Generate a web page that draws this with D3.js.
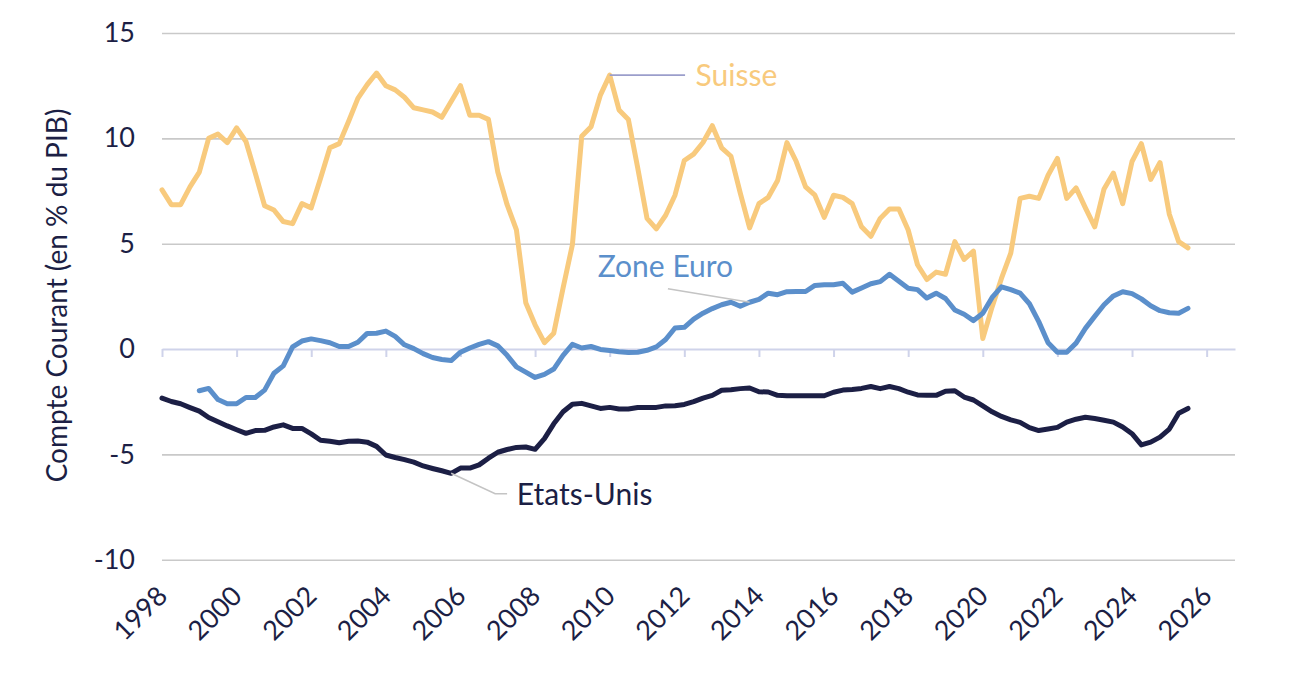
<!DOCTYPE html>
<html>
<head>
<meta charset="utf-8">
<script src="https://cdn.jsdelivr.net/npm/d3@7"></script>
<style>
  html, body { margin: 0; padding: 0; background: #ffffff; }
  svg { display: block; font-family: Lato, "Open Sans", sans-serif; }
</style>
</head>
<body>
<svg id="chart" width="1292" height="673"></svg>
<script>
// ---------------- DATA (quarterly, % of GDP) ----------------
const suisseStart = 1998;   // first quarter 1998Q1
const euroStart = 1999;     // first quarter 1999Q1
const usStart = 1998;       // first quarter 1998Q1

const suisse = [
  7.55, 6.85, 6.85, 7.7,
  8.4, 10.0, 10.2, 9.8,
  10.5, 9.85, 8.35, 6.8,
  6.6, 6.05, 5.95, 6.9,
  6.7, 8.1, 9.55, 9.75,
  10.8, 11.9, 12.55, 13.1,
  12.5, 12.3, 11.95, 11.45,
  11.35, 11.25, 11.0, 11.75,
  12.5, 11.1, 11.1, 10.9,
  8.4, 6.85, 5.65, 2.2,
  1.15, 0.3, 0.75, 2.9,
  4.95, 10.1, 10.55, 12.05,
  13.0, 11.35, 10.9, 8.6,
  6.2, 5.7, 6.35, 7.3,
  8.95, 9.25, 9.8, 10.6,
  9.55, 9.15, 7.4, 5.75,
  6.9, 7.2, 8.0, 9.8,
  8.9, 7.7, 7.3, 6.25,
  7.3, 7.2, 6.9, 5.8,
  5.35, 6.2, 6.65, 6.65,
  5.65, 4.0, 3.3, 3.65,
  3.55, 5.1, 4.25, 4.65,
  0.5, 2.0, 3.35, 4.55,
  7.15, 7.25, 7.15, 8.25,
  9.05, 7.15, 7.65, 6.7,
  5.8, 7.6, 8.35, 6.9,
  8.9, 9.75, 8.05, 8.85,
  6.4, 5.1, 4.8
];

const zoneEuro = [
  -1.98, -1.87, -2.4, -2.6,
  -2.6, -2.3, -2.3, -1.95,
  -1.15, -0.8, 0.1, 0.38,
  0.48, 0.4, 0.3, 0.12,
  0.12, 0.32, 0.74, 0.75,
  0.85, 0.6, 0.2, 0.02,
  -0.22, -0.4, -0.5, -0.55,
  -0.15, 0.05, 0.22, 0.35,
  0.15, -0.3, -0.85, -1.1,
  -1.35, -1.2, -0.95, -0.3,
  0.22, 0.05, 0.12, -0.02,
  -0.07, -0.13, -0.16, -0.15,
  -0.06, 0.1, 0.45, 1.0,
  1.03, 1.42, 1.7, 1.92,
  2.1, 2.22, 2.03, 2.22,
  2.36, 2.65, 2.58, 2.72,
  2.73, 2.73, 3.02, 3.05,
  3.05, 3.12, 2.7, 2.9,
  3.1, 3.2, 3.55, 3.22,
  2.88, 2.82, 2.42, 2.65,
  2.4, 1.85, 1.65, 1.35,
  1.7, 2.45, 2.95, 2.82,
  2.65, 2.15, 1.3, 0.3,
  -0.15, -0.15, 0.28, 0.98,
  1.55, 2.1, 2.52, 2.72,
  2.63, 2.38, 2.05, 1.82,
  1.72, 1.7, 1.93
];

const etatsUnis = [
  -2.33, -2.49, -2.6, -2.78,
  -2.95, -3.25, -3.45, -3.65,
  -3.83, -4.0, -3.87, -3.86,
  -3.7, -3.6, -3.77, -3.77,
  -4.03, -4.33, -4.38, -4.45,
  -4.38, -4.37, -4.42, -4.62,
  -5.03, -5.15, -5.25, -5.37,
  -5.55, -5.67, -5.78, -5.9,
  -5.65, -5.65, -5.5, -5.18,
  -4.9, -4.77, -4.67, -4.65,
  -4.76, -4.25, -3.55, -2.98,
  -2.62, -2.58, -2.7, -2.82,
  -2.77, -2.85, -2.85, -2.78,
  -2.77, -2.77, -2.7, -2.69,
  -2.63, -2.5, -2.33, -2.2,
  -1.96, -1.93, -1.88, -1.85,
  -2.03, -2.04, -2.2, -2.22,
  -2.22, -2.22, -2.22, -2.22,
  -2.05, -1.95, -1.92, -1.87,
  -1.78, -1.88, -1.78, -1.88,
  -2.05, -2.18, -2.2, -2.2,
  -2.0, -1.98, -2.28, -2.42,
  -2.7, -2.98, -3.2, -3.36,
  -3.48, -3.73, -3.87, -3.8,
  -3.72, -3.47, -3.33, -3.24,
  -3.3, -3.38, -3.47, -3.7,
  -4.02, -4.55, -4.42, -4.18,
  -3.8, -3.05, -2.82
];

const xTickYears = [1998, 2000, 2002, 2004, 2006, 2008, 2010, 2012, 2014, 2016, 2018, 2020, 2022, 2024, 2026];
const yTickValues = [-10, -5, 0, 5, 10, 15];
const xDomain = [1998, 2026.76];
const yDomain = [-10, 15];
const yAxisTitle = "Compte Courant (en % du PIB)";

// Series labels: anchor = date on the series, elbow/end & text in data coords
const labels = [
  { name: "Suisse", anchorDate: 2010.0, series: "suisse", path: [[2012.02, 13.0]], text: [2012.3, 13.0] },
  { name: "Zone Euro", anchorDate: 2013.75, series: "euro", path: [[2011.56, 2.86]], text: [2009.68, 3.43], baseline: true },
  { name: "Etats-Unis", anchorDate: 2005.75, series: "us", path: [[2006.93, -6.87], [2007.25, -6.87]], text: [2007.51, -6.87] }
];

// ---------------- LAYOUT ----------------
const W = 1292, H = 673;
const plot = { left: 162, right: 1235, top: 33, bottom: 559.7 };
const colors = {
  suisse: "#f8ca7d",
  euro: "#5b8fcb",
  us: "#1c1f45",
  text: "#1c1f45",
  grid: "#c9c9c9",
  zero: "#cfd3ea"
};
const fontSize = 27;
const labelFontSize = 30;

const svg = d3.select("#chart");

const x = d3.scaleLinear().domain(xDomain).range([plot.left, plot.right]);
const y = d3.scaleLinear().domain(yDomain).range([plot.bottom, plot.top]);

const toPoints = (arr, start) => arr.map((v, i) => ({ t: start + i * 0.25, v }));
const seriesData = {
  suisse: toPoints(suisse, suisseStart),
  euro: toPoints(zoneEuro, euroStart),
  us: toPoints(etatsUnis, usStart)
};

// Y axis with gridlines
const yAxis = d3.axisLeft(y)
  .tickValues(yTickValues)
  .tickSize(-(plot.right - plot.left))
  .tickPadding(27)
  .tickFormat(d => String(d));

const gy = svg.append("g")
  .attr("transform", `translate(${plot.left},0)`)
  .call(yAxis);
gy.select(".domain").remove();
gy.selectAll(".tick line")
  .attr("stroke", d => d === 0 ? "none" : colors.grid)
  .attr("stroke-width", 1.6);
gy.selectAll(".tick text")
  .attr("fill", colors.text)
  .style("font-size", fontSize + "px")
  .style("font-family", "Lato, sans-serif");

// Zero line with tick marks (category axis)
const xAxis = d3.axisBottom(x)
  .tickValues(xTickYears)
  .tickSize(8)
  .tickSizeOuter(0)
  .tickFormat("");
const gx = svg.append("g")
  .attr("transform", `translate(0,${y(0)})`)
  .call(xAxis);
gx.select(".domain").attr("stroke", colors.zero).attr("stroke-width", 2);
gx.selectAll(".tick line").attr("stroke", colors.zero).attr("stroke-width", 2);

// X tick labels (rotated)
svg.append("g").selectAll("text")
  .data(xTickYears)
  .join("text")
  .attr("transform", d => `translate(${x(d) + 7},${plot.bottom + 38}) rotate(-45)`)
  .attr("text-anchor", "end")
  .attr("fill", colors.text)
  .style("font-size", fontSize + "px")
  .text(d => d);

// Y axis title
svg.append("text")
  .attr("transform", `translate(57.5,${(108 + 483) / 2}) rotate(-90)`)
  .attr("text-anchor", "middle")
  .attr("dy", "0.35em")
  .attr("fill", colors.text)
  .style("font-size", "28px")
  .text(yAxisTitle);

// Lines
const line = d3.line().x(d => x(d.t)).y(d => y(d.v));
[["suisse", colors.suisse], ["euro", colors.euro], ["us", colors.us]].forEach(([k, c]) => {
  svg.append("path")
    .datum(seriesData[k])
    .attr("fill", "none")
    .attr("stroke", c)
    .attr("stroke-width", 5)
    .attr("stroke-linejoin", "round")
    .attr("stroke-linecap", "round")
    .attr("d", line);
});

// Labels with leader lines
const labelColor = { suisse: colors.suisse, euro: colors.euro, us: colors.us };
const leaderColor = { suisse: "#9b9ecb", euro: "#c4c4c4", us: "#c4c4c4" };
labels.forEach(l => {
  const pt = seriesData[l.series].find(p => Math.abs(p.t - l.anchorDate) < 0.01);
  const pts = [[x(pt.t), y(pt.v)]].concat(l.path.map(p => [x(p[0]), y(p[1])]));
  svg.append("path")
    .attr("d", d3.line()(pts))
    .attr("fill", "none")
    .attr("stroke", leaderColor[l.series])
    .attr("stroke-width", 1.6);
  svg.append("text")
    .attr("x", x(l.text[0]))
    .attr("y", y(l.text[1]))
    .attr("dy", l.baseline ? null : "0.36em")
    .attr("fill", labelColor[l.series])
    .style("font-size", labelFontSize + "px")
    .text(l.name);
});
</script>
</body>
</html>
